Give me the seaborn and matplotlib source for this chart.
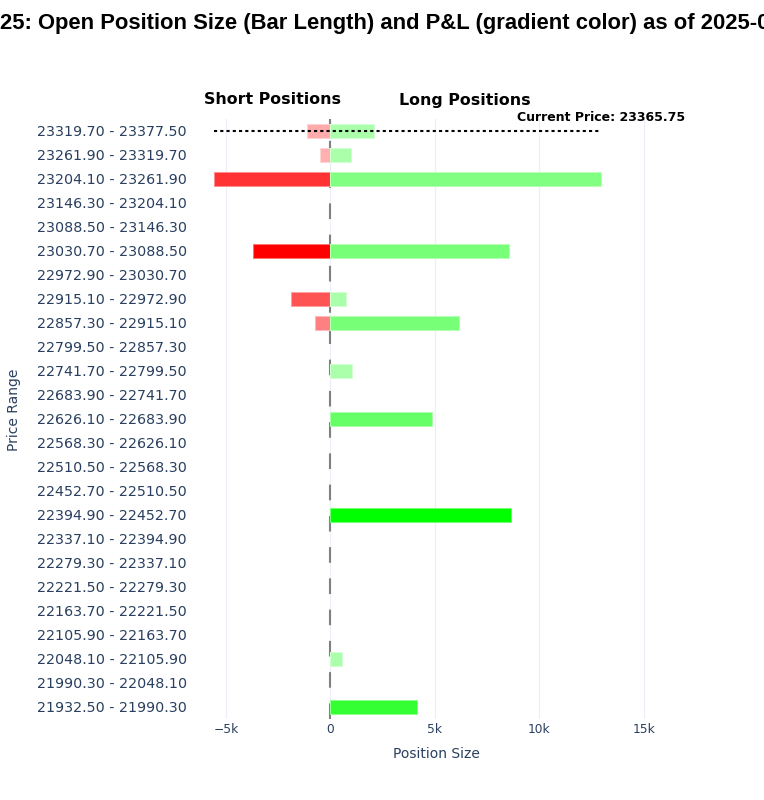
import numpy as np
import pandas as pd
import seaborn as sns
from matplotlib import pyplot as plt

# Data (top row first)
price_ranges = [
    "23319.70 - 23377.50", "23261.90 - 23319.70", "23204.10 - 23261.90",
    "23146.30 - 23204.10", "23088.50 - 23146.30", "23030.70 - 23088.50",
    "22972.90 - 23030.70", "22915.10 - 22972.90", "22857.30 - 22915.10",
    "22799.50 - 22857.30", "22741.70 - 22799.50", "22683.90 - 22741.70",
    "22626.10 - 22683.90", "22568.30 - 22626.10", "22510.50 - 22568.30",
    "22452.70 - 22510.50", "22394.90 - 22452.70", "22337.10 - 22394.90",
    "22279.30 - 22337.10", "22221.50 - 22279.30", "22163.70 - 22221.50",
    "22105.90 - 22163.70", "22048.10 - 22105.90", "21990.30 - 22048.10",
    "21932.50 - 21990.30",
]
short_size = [-1100, -480, -5550, 0, 0, -3680, 0, -1870, -720, 0, 0, 0, 0,
              0, 0, 0, 0, 0, 0, 0, 0, 0, 0, 0, 0]
long_size = [2100, 1000, 12970, 0, 0, 8560, 0, 770, 6170, 0, 1050, 0, 4880,
             0, 0, 0, 8660, 0, 0, 0, 0, 0, 570, 0, 4160]
# P&L intensity (0..1) that drives the colour gradient
short_pnl = [0.33, 0.31, 0.8, 0, 0, 1.0, 0, 0.67, 0.5, 0, 0, 0, 0,
             0, 0, 0, 0, 0, 0, 0, 0, 0, 0, 0, 0]
long_pnl = [0.33, 0.33, 0.5, 0, 0, 0.53, 0, 0.33, 0.53, 0, 0.33, 0, 0.6,
            0, 0, 0, 1.0, 0, 0, 0, 0, 0, 0.33, 0, 0.8]
current_price = 23365.75

df = pd.DataFrame({"range": price_ranges, "short": short_size, "long": long_size})


def shade(base, a):
    base = np.array(base, dtype=float)
    return tuple(1 - a * (1 - base))


sns.set_theme(style="white")
plt.rcParams["font.family"] = ["DejaVu Sans"]

W, H = 764, 800
fig = plt.figure(figsize=(W / 100, H / 100), dpi=100)
left, right, top, bottom = 205, 675, 119, 719
ax = fig.add_axes([left / W, 1 - bottom / H, (right - left) / W, (bottom - top) / H])

red, green = (1, 0, 0), (0, 1, 0)
short_colors = [shade(red, a) for a in short_pnl]
long_colors = [shade(green, a) for a in long_pnl]

# zero line (dashed gray) under the bars
ax.axvline(0, color="#808080", lw=1.5, linestyle=(0, (7.5, 7.5)), zorder=0.8)

for col, colors, pnl, base in [("short", short_colors, short_pnl, red),
                               ("long", long_colors, long_pnl, green)]:
    n_before = len(ax.patches)
    sns.barplot(data=df, x=col, y="range", hue="range", palette=colors,
                saturation=1, legend=False, orient="h", width=0.62, ax=ax, zorder=2)
    for patch, val, a in zip(ax.patches[n_before:], df[col], pnl):
        if val == 0:
            patch.set_linewidth(0)
        else:
            patch.set_edgecolor(shade(base, a * 0.55))
            patch.set_linewidth(0.75)

# current price marker
x0, x1 = min(short_size), max(long_size)
ax.plot([x0, x1], [0, 0], color="black", lw=1.5, linestyle=(0, (1.5, 1.5)), zorder=3)
ax.annotate(f"Current Price: {current_price:.2f}", xy=(x1, 0), xytext=(0, 5),
            textcoords="offset points", ha="center", va="bottom",
            fontsize=9, fontweight="bold", color="black")

ax.set_xlim(-6000, 16500)
ax.set_ylim(24.5, -0.5)
ax.set_xticks([-5000, 0, 5000, 10000, 15000])
ax.set_xticklabels(["\u22125k", "0", "5k", "10k", "15k"])
ax.tick_params(axis="x", length=0, pad=3, labelsize=8.8, labelcolor="#2a3f5f")
ax.tick_params(axis="y", length=0, pad=13, labelsize=10.3, labelcolor="#2a3f5f")
ax.xaxis.grid(True, color="#ebf0f8", lw=0.9)
ax.yaxis.grid(False)
ax.set_axisbelow(True)
for s in ax.spines.values():
    s.set_visible(False)

ax.set_xlabel("Position Size", fontsize=10, color="#2a3f5f")
ax.xaxis.set_label_coords((436 - left) / (right - left), -(747 - bottom) / (bottom - top))
ax.set_ylabel("Price Range", fontsize=10, color="#2a3f5f")
ax.yaxis.set_label_coords((21 - left) / (right - left), (bottom - 410) / (bottom - top))

fig.text(272 / W, 1 - 100 / H, "Short Positions", ha="center", va="center",
         fontsize=11.4, fontweight="bold", color="black")
fig.text(465 / W, 1 - 100 / H, "Long Positions", ha="center", va="center",
         fontsize=11.4, fontweight="bold", color="black")

fig.text(0, 1 - 23 / H,
         "25: Open Position Size (Bar Length) and P&L (gradient color) as of 2025-0",
         ha="left", va="center", fontsize=15.8, fontweight="bold",
         family=["Liberation Sans", "DejaVu Sans"], color="black")

fig.savefig("out.png", dpi=100, facecolor="white")
